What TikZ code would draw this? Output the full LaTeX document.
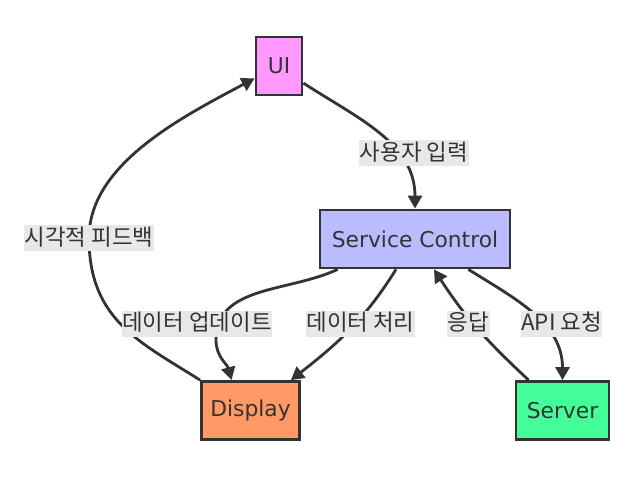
\documentclass[tikz,border=0pt]{standalone}
\usepackage{fontspec}
\setmainfont{DejaVu Sans}
\newfontfamily\kr{Noto Sans CJK KR}
\usetikzlibrary{arrows.meta,calc}
\definecolor{ink}{HTML}{333333}
\definecolor{lblbg}{HTML}{E8E8E8}
\definecolor{uifill}{HTML}{FF99FF}
\definecolor{scfill}{HTML}{BBBBFF}
\definecolor{dpfill}{HTML}{FF9966}
\definecolor{svfill}{HTML}{44FF99}
\begin{document}
\begin{tikzpicture}[x=1pt,y=-1pt,
  box/.style={draw=ink, line width=2.8pt, text=ink, font=\fontsize{21.8}{26}\selectfont, inner sep=0pt, minimum height=58pt},
  lbl/.style={fill=lblbg, text=ink, font=\kr\fontsize{22.4}{26}\selectfont, inner xsep=0.5pt, inner ysep=1pt, text height=19pt, text depth=5pt},
  arr/.style={draw=ink, line width=2.8pt, -{Triangle[length=13pt,width=14pt]}}]
\useasboundingbox (0,0) rectangle (635,495);
\fill[white] (0,0) rectangle (635,495);
% nodes
\node[box, fill=uifill, minimum width=46pt] (ui) at (279,66) {UI};
\node[box, fill=scfill, minimum width=190pt] (sc) at (415,239) {Service Control};
\node[box, fill=dpfill, minimum width=98pt] (display) at (250.5,410.5) {Display};
\node[box, fill=svfill, minimum width=93pt] (server) at (562.5,410.5) {Server};
% edges
\draw[arr] (ui.-35) to[out=-33,in=90] (sc.north);
\draw[arr] (display.north west) .. controls (140,342) and (89,320) .. (89,238)
  .. controls (89,165) and (180,118) .. (ui.-153);
\draw[arr] ($(sc.south west)+(19,0)$) to[out=-155,in=90] (216,340) to[out=-90,in=105] ($(display.north)+(-19,0)$);
\draw[arr] ($(sc.south)+(-19,0)$) to[out=-122,in=38] ($(display.north east)+(-10,0)$);
\draw[arr] ($(server.north west)+(14,0)$) to[out=137,in=-57] ($(sc.south)+(19,0)$);
\draw[arr] ($(sc.south east)+(-43,0)$) to[out=-32,in=90] (server.north);
% labels
\node[lbl] (l1) at (414,153) {사용자 입력};
\node[lbl] (l2) at (89,238) {시각적 피드백};
\node[lbl] (l3) at (197,323.5) {데이터 업데이트};
\node[lbl] (l4) at (360.5,323.5) {데이터 처리};
\node[lbl] (l5) at (468.5,323.5) {응답};
\node[lbl] (l6) at (561.5,323.5) {API 요청};
\end{tikzpicture}
\end{document}
